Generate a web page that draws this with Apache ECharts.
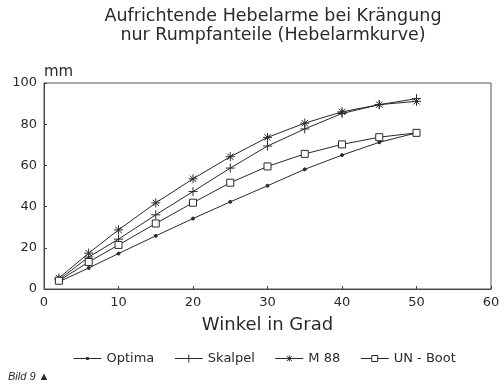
<!DOCTYPE html>
<html><head><meta charset="utf-8">
<script src="https://cdn.jsdelivr.net/npm/echarts@6/dist/echarts.min.js"></script>
<style>html,body{margin:0;padding:0;background:#fff}#c{width:504px;height:385px}</style>
</head><body><div id="c"></div>
<script>
const angles = [2, 6, 10, 15, 20, 25, 30, 35, 40, 45, 50];
const optima  = [3.5, 10.2, 17.2, 25.8, 34.2, 42.3, 50.1, 58.1, 65.0, 71.2, 75.8];
const skalpel = [4.5, 15.5, 24.2, 36.0, 47.3, 58.7, 69.4, 77.7, 85.2, 89.5, 92.4];
const m88     = [5.3, 17.4, 28.7, 41.8, 53.5, 64.2, 73.6, 80.5, 86.0, 89.5, 91.1];
const unBoot  = [4.0, 13.1, 21.4, 31.8, 41.9, 51.6, 59.5, 65.6, 70.2, 73.7, 75.8];
const seriesNames = ['Optima', 'Skalpel', 'M 88', 'UN - Boot'];
const xTicks = [0, 10, 20, 30, 40, 50, 60];
const yTicks = [0, 20, 40, 60, 80, 100];

const ink = '#2a2a2a';
const font = 'DejaVu Sans';
const symbols = [
  'circle',
  'path://M0,5 L10,5 M5,0 L5,10',
  'path://M0,5 L10,5 M5,0 L5,10 M1.5,1.5 L8.5,8.5 M8.5,1.5 L1.5,8.5',
  'rect'
];
const legendIcons = [
  'path://M0,4 L28,4 M13,3 L15,3 L15,5 L13,5 Z',
  'path://M0,4 L28,4 M14,0 L14,8',
  'path://M0,4 L28,4 M14,1 L14,7 M11.5,1.5 L16.5,6.5 M16.5,1.5 L11.5,6.5',
  'path://M0,4 L11,4 M17,4 L28,4 M11,1 L17,1 L17,7 L11,7 Z'
];
const legendFills = [ink, 'transparent', 'transparent', '#fff'];
const sizes = [3, 9, 9, 7];
const fills = [ink, 'transparent', 'transparent', '#fff'];
const allData = [optima, skalpel, m88, unBoot];

const chart = echarts.init(document.getElementById('c'), null, {renderer: 'canvas'});
chart.setOption({
  animation: false,
  backgroundColor: '#fff',
  title: [{
    text: 'Aufrichtende Hebelarme bei Krängung\nnur Rumpfanteile (Hebelarmkurve)',
    left: 268, top: 2, textAlign: 'center',
    textStyle: {fontFamily: font, fontSize: 17.5, fontWeight: 'normal', color: ink, lineHeight: 19}
  }, {
    text: 'Bild 9 ▲', left: 3, top: 366,
    textStyle: {fontFamily: 'Liberation Sans', fontStyle: 'italic', fontSize: 11, fontWeight: 'normal', color: ink}
  }],
  grid: {left: 44, right: 13, top: 83, bottom: 96, show: true, borderColor: '#555', borderWidth: 1},
  legend: {
    data: seriesNames.map((n, i) => ({
      name: n, icon: legendIcons[i],
      itemStyle: {color: legendFills[i], borderColor: ink, borderWidth: 1}
    })),
    left: 68, top: 347, itemGap: 20, itemWidth: 28, itemHeight: 8,
    textStyle: {fontFamily: font, fontSize: 13, color: ink}
  },
  xAxis: {
    type: 'value', min: 0, max: 60, interval: 10,
    name: 'Winkel in Grad', nameLocation: 'middle', nameGap: 27,
    nameTextStyle: {fontFamily: font, fontSize: 18, color: ink},
    axisLine: {show: true, lineStyle: {color: '#444'}},
    axisTick: {show: true, inside: true, length: 3, lineStyle: {color: '#444'}},
    axisLabel: {fontFamily: font, fontSize: 13, color: ink, margin: 7,
      formatter: v => xTicks.includes(v) ? String(v) : ''},
    splitLine: {show: false}
  },
  yAxis: {
    type: 'value', min: 0, max: 100, interval: 20,
    name: 'mm', nameLocation: 'end', nameGap: 3,
    nameTextStyle: {fontFamily: font, fontSize: 15, color: ink, align: 'left', padding: [0, 0, 0, 0]},
    axisLine: {show: true, lineStyle: {color: '#444'}},
    axisTick: {show: true, inside: true, length: 3, lineStyle: {color: '#444'}},
    axisLabel: {fontFamily: font, fontSize: 13, color: ink, margin: 7,
      formatter: v => yTicks.includes(v) ? String(v) : ''},
    splitLine: {show: false}
  },
  series: seriesNames.map((n, i) => ({
    name: n, type: 'line',
    data: angles.map((a, k) => [a, allData[i][k]]),
    symbol: symbols[i], symbolSize: sizes[i], showSymbol: true,
    lineStyle: {color: ink, width: 1},
    itemStyle: {color: fills[i], borderColor: ink, borderWidth: 1},
    emphasis: {disabled: true}
  }))
});
</script></body></html>
